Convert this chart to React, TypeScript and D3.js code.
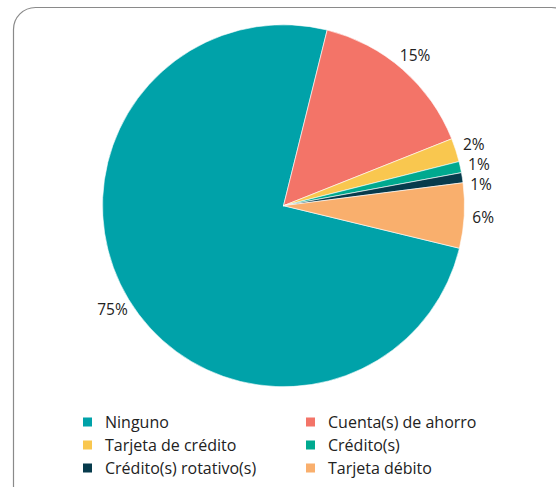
import React from "react";
import * as d3 from "d3";

const categories = ["Ninguno", "Cuenta(s) de ahorro", "Tarjeta de crédito", "Crédito(s)", "Crédito(s) rotativo(s)", "Tarjeta débito"];
const values = [75.1, 15.1, 2.1, 1.0, 0.9, 5.8];
const labels = ["75%", "15%", "2%", "1%", "1%", "6%"];
const colors = ["#00A2A9", "#F37468", "#F9C74F", "#00A98F", "#073B4C", "#F9AF6D"];

const W = 556;
const H = 487;
const FONT = "'Open Sans', Lato, sans-serif";

export default function App() {
  const cx = 283.5;
  const cy = 205.7;
  const r = 181;
  const start = (103.6 * Math.PI) / 180;
  const pie = d3
    .pie<number>()
    .sort(null)
    .value((d) => d)
    .startAngle(start)
    .endAngle(start + 2 * Math.PI);
  const arcs = pie(values);
  const arc = d3.arc<d3.PieArcDatum<number>>().innerRadius(0).outerRadius(r);
  const lr = r + 19;
  const labelArc = d3.arc<d3.PieArcDatum<number>>().innerRadius(lr).outerRadius(lr);

  // label positions with simple vertical collision avoidance on the right side
  const pos = arcs.map((a) => {
    const [x, y] = labelArc.centroid(a);
    return { x, y };
  });
  const right = pos
    .map((p, i) => ({ p, i }))
    .filter((d) => d.p.x > 0)
    .sort((a, b) => a.p.y - b.p.y);
  for (let k = 1; k < right.length; k++) {
    const prev = right[k - 1].p;
    const cur = right[k].p;
    if (cur.y - prev.y < 20) cur.y = prev.y + 20;
  }

  const legendX = [83, 306];
  const legendY = [422, 445, 468];

  return (
    <svg width={W} height={H} style={{ position: "absolute", left: 0, top: 0 }}>
      <rect x={13.5} y={7.5} width={560} height={500} rx={22} ry={22} fill="#fff" stroke="#8a8a8a" strokeWidth={1.2} />
      <g transform={`translate(${cx},${cy})`}>
        {arcs.map((a, i) => (
          <path key={i} d={arc(a) || ""} fill={colors[i]} stroke="#fff" strokeWidth={0.6} />
        ))}
        {arcs.map((a, i) => (
          <text key={i} x={pos[i].x} y={pos[i].y} textAnchor="middle" dominantBaseline="central" fontFamily={FONT} fontSize={15.5} fill="#222">
            {labels[i]}
          </text>
        ))}
      </g>
      {categories.map((c, i) => {
        const col = i % 2;
        const row = Math.floor(i / 2);
        return (
          <g key={c} transform={`translate(${legendX[col]},${legendY[row]})`}>
            <rect x={0} y={-4.5} width={9} height={9} fill={colors[i]} />
            <text x={22} y={0} dominantBaseline="central" fontFamily={FONT} fontSize={16} fill="#222">
              {c}
            </text>
          </g>
        );
      })}
    </svg>
  );
}
